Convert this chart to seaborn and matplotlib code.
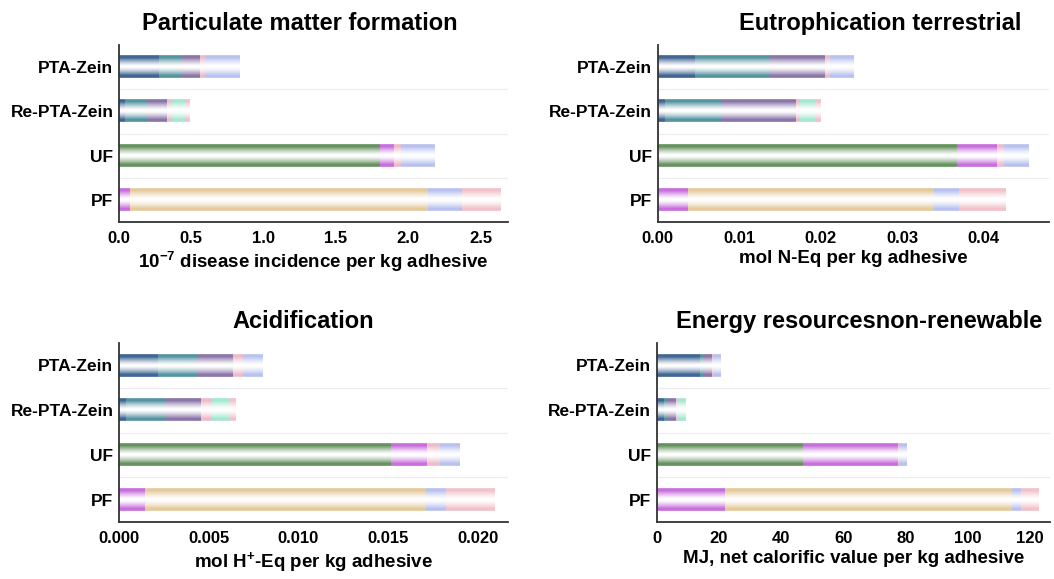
import numpy as np
import pandas as pd
import matplotlib
matplotlib.use("Agg")
import matplotlib.pyplot as plt
import seaborn as sns
from matplotlib.colors import to_rgb

# ---------------- data ----------------
CATEGORIES = ["PTA-Zein", "Re-PTA-Zein", "UF", "PF"]

STACK_PTA_ZEIN = ["Zein", "PTA", "Crosslinker", "Transport", "Electricity"]
STACK_RE_PTA_ZEIN = ["Zein", "PTA", "Crosslinker", "Transport", "Recycling", "Waste treatment"]
STACK_UF = ["Urea", "Formaldehyde", "Transport", "Electricity"]
STACK_PF = ["Formaldehyde", "Phenol", "Electricity", "Waste treatment"]

COMPONENT_COLORS = {
    "Zein": "#2c609e",
    "PTA": "#4499ad",
    "Crosslinker": "#8669b0",
    "Transport": "#f5b2c4",
    "Electricity": "#aebaf8",
    "Recycling": "#97f2d3",
    "Waste treatment": "#f8b9c4",
    "Urea": "#5a9852",
    "Formaldehyde": "#d257f0",
    "Phenol": "#f0cd8e",
}

# Particulate matter formation (10^-7 disease incidence per kg adhesive)
PM_PTA_ZEIN = [0.27, 0.16, 0.13, 0.03, 0.24]
PM_RE_PTA_ZEIN = [0.04, 0.16, 0.13, 0.035, 0.095, 0.03]
PM_UF = [1.80, 0.10, 0.05, 0.23]
PM_PF = [0.07, 2.06, 0.24, 0.27]

# Eutrophication terrestrial (mol N-Eq per kg adhesive)
EU_PTA_ZEIN = [0.0045, 0.0091, 0.0068, 0.0006, 0.0030]
EU_RE_PTA_ZEIN = [0.0008, 0.0069, 0.0091, 0.0006, 0.0019, 0.0006]
EU_UF = [0.0366, 0.0049, 0.0008, 0.0031]
EU_PF = [0.0036, 0.0302, 0.0031, 0.0057]

# Acidification (mol H+-Eq per kg adhesive)
AC_PTA_ZEIN = [0.00217, 0.00220, 0.00198, 0.00055, 0.00110]
AC_RE_PTA_ZEIN = [0.00036, 0.00219, 0.00200, 0.00060, 0.00102, 0.00031]
AC_UF = [0.01517, 0.00199, 0.00074, 0.00110]
AC_PF = [0.00143, 0.01569, 0.00112, 0.00273]

# Energy resources non-renewable (MJ per kg adhesive)
EN_PTA_ZEIN = [13.7, 1.3, 2.6, 0.3, 2.4]
EN_RE_PTA_ZEIN = [2.1, 1.3, 2.7, 0.3, 2.5, 0.1]
EN_UF = [46.6, 30.5, 0.4, 2.8]
EN_PF = [21.7, 92.3, 2.7, 5.7]

TITLES = ["Particulate matter formation", "Eutrophication terrestrial",
          "Acidification", "Energy resourcesnon-renewable"]
XLABELS = ["10$^{-7}$ disease incidence per kg adhesive", "mol N-Eq per kg adhesive",
           "mol H$^{+}$-Eq per kg adhesive", "MJ, net calorific value per kg adhesive"]
XMAX = [2.69, 0.048, 0.0217, 126.4]
XTICKS = [np.arange(0, 2.51, 0.5), np.arange(0, 0.0401, 0.01),
          np.arange(0, 0.02001, 0.005), np.arange(0, 121, 20)]
XFMT = ["{:.1f}", "{:.2f}", "{:.3f}", "{:.0f}"]

STACKS = [STACK_PTA_ZEIN, STACK_RE_PTA_ZEIN, STACK_UF, STACK_PF]
PANEL_VALUES = [
    [PM_PTA_ZEIN, PM_RE_PTA_ZEIN, PM_UF, PM_PF],
    [EU_PTA_ZEIN, EU_RE_PTA_ZEIN, EU_UF, EU_PF],
    [AC_PTA_ZEIN, AC_RE_PTA_ZEIN, AC_UF, AC_PF],
    [EN_PTA_ZEIN, EN_RE_PTA_ZEIN, EN_UF, EN_PF],
]

# ---------------- style ----------------
sns.set_theme(style="white")
plt.rcParams["font.family"] = ["Liberation Sans", "DejaVu Sans"]
plt.rcParams["font.weight"] = "bold"
plt.rcParams["text.color"] = "black"
plt.rcParams["axes.labelcolor"] = "black"
plt.rcParams["axes.titlecolor"] = "black"
plt.rcParams["xtick.color"] = "black"
plt.rcParams["ytick.color"] = "black"
plt.rcParams["axes.labelweight"] = "bold"
plt.rcParams["axes.titleweight"] = "bold"
plt.rcParams["mathtext.fontset"] = "custom"
plt.rcParams["mathtext.rm"] = "Liberation Sans:bold"
plt.rcParams["mathtext.bf"] = "Liberation Sans:bold"
plt.rcParams["mathtext.it"] = "Liberation Sans:bold"
plt.rcParams["mathtext.default"] = "bf"

W, H = 1054, 579
fig = plt.figure(figsize=(W / 100, H / 100), dpi=100)

# axes boxes in pixels: left, right, top, bottom
BOXES = [(119, 508, 45, 222), (657.5, 1049, 45, 222),
         (119, 508, 343, 522), (656.5, 1050, 343, 522)]
TITLE_X = [0.465, 0.57, 0.473, 0.515]


def gradient_img(color, n=80):
    c = np.array(to_rgb(color))
    t = np.linspace(0, 1, n)
    d = np.abs(t - 0.5) * 2
    w = np.clip((d - 0.05) / 0.75, 0, 1) ** 1.3
    w = w * (1 - 0.25 * np.clip((d - 0.88) / 0.12, 0, 1))
    img = 1 - w[:, None] * (1 - c[None, :])
    return img[:, None, :]


for pi in range(4):
    l, r, t, b = BOXES[pi]
    ax = fig.add_axes([l / W, (H - b) / H, (r - l) / W, (b - t) / H])

    rows = []
    for cat, stack, vals in zip(CATEGORIES, STACKS, PANEL_VALUES[pi]):
        cum = np.cumsum(vals)
        for lvl, (comp, c) in enumerate(zip(stack, cum)):
            rows.append({"category": cat, "component": comp, "level": lvl, "cum": c})
    df = pd.DataFrame(rows)

    for lvl in sorted(df["level"].unique(), reverse=True):
        sub = df[df["level"] == lvl]
        sns.barplot(data=sub, x="cum", y="category", hue="component",
                    palette=COMPONENT_COLORS, order=CATEGORIES, dodge=False,
                    width=0.5, orient="h", errorbar=None, legend=False,
                    linewidth=0, ax=ax)

    # turn bars into gradient fills (colour at edges, white in the middle)
    for k, p in enumerate(list(ax.patches)):
        x0, y0 = p.get_x(), p.get_y()
        w_, h_ = p.get_width(), p.get_height()
        if w_ <= 0:
            continue
        img = gradient_img(p.get_facecolor())
        ax.imshow(img, extent=(x0, x0 + w_, y0 + h_, y0), aspect="auto",
                  interpolation="bilinear", zorder=2 + k * 0.01)
        p.set_visible(False)

    for yb in [0.5, 1.5, 2.5]:
        ax.axhline(yb, color="#ececec", lw=0.8, zorder=0.5)

    ax.set_xlim(0, XMAX[pi])
    ax.set_ylim(3.5, -0.5)
    ax.set_xticks(XTICKS[pi])
    ax.set_xticklabels([XFMT[pi].format(v) for v in XTICKS[pi]], fontsize=12, fontweight="bold")
    ax.set_yticks(range(len(CATEGORIES)))
    ax.set_yticklabels(CATEGORIES, fontsize=12.5, fontweight="bold")
    ax.set_yticks([-0.5, 0.5, 1.5, 2.5], minor=True)
    ax.tick_params(axis="y", which="major", length=0, pad=4, labelcolor="black")
    ax.tick_params(axis="y", which="minor", length=4, width=1.2, direction="inout", color="#333333")
    ax.tick_params(axis="x", which="major", length=3.5, width=1.2, direction="out",
                   color="#333333", pad=3, labelcolor="black")
    ax.set_ylabel("")
    ax.set_xlabel(XLABELS[pi], fontsize=13.5, fontweight="bold", labelpad=3, color="black")
    ax.set_title(TITLES[pi], fontsize=17, fontweight="bold", x=TITLE_X[pi], pad=11, color="black")
    for s in ["top", "right"]:
        ax.spines[s].set_visible(False)
    for s in ["left", "bottom"]:
        ax.spines[s].set_color("#333333")
        ax.spines[s].set_linewidth(1.3)
    ax.grid(False)

fig.savefig("out.png", dpi=100, facecolor="white")
